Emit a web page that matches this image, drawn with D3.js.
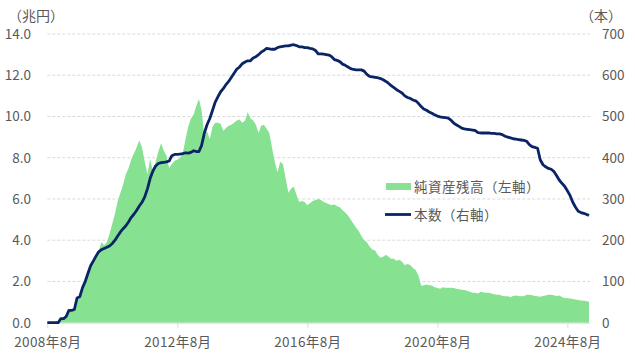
<!DOCTYPE html>
<html><head><meta charset="utf-8">
<script src="https://cdn.jsdelivr.net/npm/d3@7"></script>
<style>
html,body{margin:0;padding:0;background:#fff;}
svg text{font-family:"Noto Sans CJK JP","Noto Sans",sans-serif;fill:#595959;}
</style></head>
<body>
<svg id="c" width="635" height="355"></svg>
<script>
// Monthly data starting 2008年8月 (index 0) through 2025年4月
const startMonth = "2008-08";
// 純資産残高 (兆円, left axis)
const netAssets = [
 0.0,0.0,0.02,0.05,0.1,0.2,0.2,0.3,0.55,0.6,
 0.65,1.1,1.2,1.6,1.9,2.3,2.65,2.9,3.2,3.45,
 3.9,3.75,3.9,4.3,4.8,5.3,5.9,6.3,6.7,7.2,
 7.5,7.9,8.2,8.5,8.85,8.5,7.8,7.2,7.95,7.3,
 7.8,8.3,8.7,8.35,8.1,7.5,7.7,7.85,7.9,8.0,
 8.2,8.9,9.5,9.9,10.1,10.5,10.85,10.3,9.0,9.3,
 8.9,9.5,9.7,9.7,9.65,9.3,9.45,9.55,9.6,9.7,
 9.8,9.85,9.7,9.8,10.2,9.9,9.8,9.6,9.2,9.55,
 9.6,9.4,9.2,8.5,7.8,7.3,7.8,7.7,7.0,6.3,
 6.5,6.6,6.2,5.85,5.9,5.85,5.7,5.8,5.9,5.95,
 6.0,5.95,5.85,5.8,5.75,5.7,5.75,5.65,5.6,5.45,
 5.35,5.2,5.0,4.8,4.6,4.45,4.2,4.0,3.9,3.7,
 3.55,3.5,3.3,3.15,3.2,3.3,3.2,3.1,3.1,3.0,
 3.05,2.95,2.8,2.85,2.8,2.65,2.55,2.3,1.8,1.8,
 1.85,1.82,1.8,1.72,1.68,1.65,1.72,1.7,1.7,1.7,
 1.68,1.65,1.62,1.6,1.58,1.55,1.5,1.45,1.45,1.42,
 1.5,1.47,1.45,1.45,1.42,1.38,1.35,1.35,1.3,1.28,
 1.28,1.25,1.3,1.32,1.3,1.28,1.3,1.35,1.35,1.33,
 1.3,1.28,1.26,1.3,1.32,1.35,1.35,1.33,1.3,1.32,
 1.25,1.2,1.18,1.17,1.15,1.12,1.1,1.08,1.07,1.05,
 1.02
];
// 本数 (right axis)
const fundCount = [
 0,0,0,0,0,10,10,15,30,30,
 32,60,63,85,100,120,138,150,162,172,
 177,180,183,186,192,200,210,220,228,235,
 245,255,263,272,283,292,305,325,350,368,
 380,386,388,389,390,392,405,408,408,409,
 410,412,411,413,417,415,415,430,460,480,
 495,515,535,548,560,568,578,585,595,605,
 615,620,628,632,635,635,642,645,650,656,
 660,665,664,663,663,667,669,670,671,671,
 673,674,672,669,669,667,667,665,664,660,
 652,652,651,650,649,645,638,636,633,627,
 624,620,616,614,613,613,613,610,602,597,
 596,595,594,592,589,585,580,575,570,565,
 561,557,550,546,544,540,538,532,524,518,
 515,511,508,504,501,499,498,497,496,491,
 484,480,476,472,470,469,468,467,466,461,
 460,460,460,460,459,459,458,458,456,452,
 450,448,446,445,444,443,442,440,432,427,
 425,423,395,383,378,374,372,367,357,346,
 338,331,320,308,292,280,270,267,265,263,
 260
];
const leftTicks = [0,2,4,6,8,10,12,14];
const rightTicks = [0,100,200,300,400,500,600,700];
const xTickLabels = ["2008-08","2012-08","2016-08","2020-08","2024-08"];
const seriesNames = ["純資産残高（左軸）","本数（右軸）"];
const unitLeft = "（兆円）", unitRight = "（本）";

const parse = d3.timeParse("%Y-%m");
const t0 = parse(startMonth);
const dates = netAssets.map((_,i)=>d3.timeMonth.offset(t0,i));
const data = dates.map((d,i)=>({date:d, na:netAssets[i], n:fundCount[i]}));

const svg = d3.select("#c");
const L=47.3, R=589, T=34, B=322.7;
const x = d3.scaleTime().domain([t0, dates[dates.length-1]]).range([L,R]);
const yL = d3.scaleLinear().domain([0,14]).range([B,T]);
const yR = d3.scaleLinear().domain([0,700]).range([B,T]);

// gridlines
svg.append("g").selectAll("line").data(leftTicks.filter(v=>v>0)).join("line")
 .attr("x1",L).attr("x2",R+1).attr("y1",d=>yL(d)).attr("y2",d=>yL(d))
 .attr("stroke","#d9d9d9").attr("stroke-width",1).attr("stroke-dasharray","3,2");

// area
svg.append("path").datum(data)
 .attr("d", d3.area().x(d=>x(d.date)).y0(B).y1(d=>yL(d.na)))
 .attr("fill","#86e291");

// x axis
const xa = d3.axisBottom(x).tickValues(xTickLabels.map(parse))
 .tickFormat(d3.timeFormat("%Y年%-m月")).tickSize(5).tickSizeOuter(0);
const gx = svg.append("g").attr("transform",`translate(0,${B})`).call(xa);
gx.select(".domain").attr("stroke","#d9d9d9").attr("d",`M${L},0.5H${R+1}`);
gx.selectAll(".tick line").attr("stroke","#d9d9d9");
gx.selectAll(".tick text").attr("font-size","13.5px").attr("y",0).attr("dy","24.5px")
 .attr("letter-spacing","0.4px")
 .style("font-family",'"Noto Sans CJK JP",sans-serif').attr("fill","#595959");

// line
svg.append("path").datum(data)
 .attr("d", d3.line().x(d=>x(d.date)).y(d=>yR(d.n)))
 .attr("fill","none").attr("stroke","#0a2466").attr("stroke-width",2.8)
 .attr("stroke-linejoin","round");

// left axis labels
const ya = d3.axisLeft(yL).tickValues(leftTicks).tickFormat(d3.format(".1f")).tickSize(0);
const gy = svg.append("g").attr("transform",`translate(31,0)`).call(ya);
gy.select(".domain").remove();
gy.selectAll(".tick text").attr("font-size","13.5px").attr("x",0).attr("fill","#595959")
 .style("font-family",'"Noto Sans CJK JP",sans-serif');

// right axis labels
const yra = d3.axisRight(yR).tickValues(rightTicks).tickSize(0);
const gyr = svg.append("g").attr("transform",`translate(602,0)`).call(yra);
gyr.select(".domain").remove();
gyr.selectAll(".tick text").attr("font-size","13.5px").attr("x",0).attr("fill","#595959")
 .style("font-family",'"Noto Sans CJK JP",sans-serif');

// units
svg.append("text").attr("x",8).attr("y",21).attr("font-size","14px").text(unitLeft);
svg.append("text").attr("x",580).attr("y",21).attr("font-size","14px").text(unitRight);

// legend
const lg = svg.append("g");
lg.append("rect").attr("x",386).attr("y",183).attr("width",25).attr("height",7).attr("fill","#86e291");
lg.append("text").attr("x",414).attr("y",191.5).attr("font-size","13.5px").attr("letter-spacing","0.5px").text(seriesNames[0]);
lg.append("line").attr("x1",385).attr("x2",411).attr("y1",214.5).attr("y2",214.5)
 .attr("stroke","#0a2466").attr("stroke-width",2.8);
lg.append("text").attr("x",414).attr("y",219.5).attr("font-size","13.5px").attr("letter-spacing","0.5px").text(seriesNames[1]);
</script>
</body></html>
